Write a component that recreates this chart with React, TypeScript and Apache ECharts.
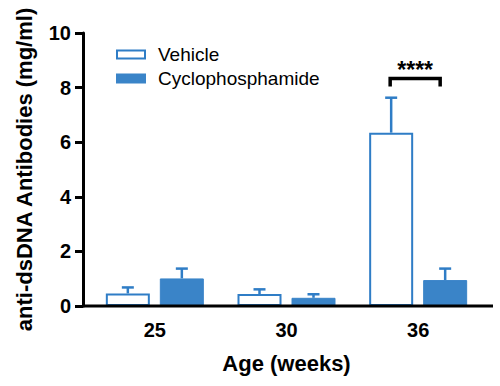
import React, { useEffect, useRef } from "react";
import * as echarts from "echarts";

const categories = ["25", "30", "36"];
const vehicleMean = [0.46, 0.44, 6.35];
const vehicleErr = [0.22, 0.17, 1.28];
const cpMean = [1.01, 0.3, 0.95];
const cpErr = [0.36, 0.13, 0.42];
const yTicks = [0, 2, 4, 6, 8, 10];
const sigCategory = 2;
const sigLevel = 8.33;
const sigLabel = "****";

const BLUE = "#2f7dc6";
const BLUE_FILL = "#3a84c8";
const FONT = 'Arial, "Liberation Sans", Helvetica, sans-serif';

export default function App() {
  const ref = useRef<HTMLDivElement>(null);
  useEffect(() => {
    if (!ref.current) return;
    const chart = echarts.init(ref.current, null, { renderer: "svg" });
    const barW = 44;
    const gap = 10;
    const off = (barW + gap) / 2;
    const errSeries = (name: string, mean: number[], err: number[], dir: number) => ({
      type: "custom",
      name: name + " err",
      data: mean.map((m, i) => [i, m, err[i]]),
      z: 1,
      silent: true,
      renderItem: (params: any, api: any) => {
        const idx = api.value(0);
        const v = api.value(1);
        const e = api.value(2);
        const base = api.coord([idx, v]);
        const top = api.coord([idx, v + e]);
        const x = base[0] + dir * off;
        return {
          type: "group",
          children: [
            { type: "line", shape: { x1: x, y1: base[1], x2: x, y2: top[1] }, style: { stroke: BLUE, lineWidth: 2.5 } },
            { type: "line", shape: { x1: x - 6, y1: top[1], x2: x + 6, y2: top[1] }, style: { stroke: BLUE, lineWidth: 2.5 } },
          ],
        };
      },
    });
    chart.setOption({
      animation: false,
      textStyle: { fontFamily: FONT },
      grid: { left: 89, right: 16, top: 33, bottom: 80 },
      legend: {
        orient: "vertical",
        left: 111,
        top: 40,
        itemWidth: 28,
        itemHeight: 8,
        itemGap: 5,
        icon: "rect",
        data: ["Vehicle", "Cyclophosphamide"],
        textStyle: { fontSize: 19, color: "#000", fontFamily: FONT, padding: [0, 0, 0, 8] },
      },
      xAxis: {
        type: "category",
        data: categories,
        name: "Age (weeks)",
        nameLocation: "middle",
        nameGap: 46,
        nameTextStyle: { fontSize: 22, fontWeight: "bold", color: "#000", fontFamily: FONT },
        axisLine: { show: false },
        axisTick: { alignWithLabel: true, length: 8, lineStyle: { color: "#000", width: 3 } },
        axisLabel: { fontSize: 20, fontWeight: "bold", color: "#000", margin: 14, fontFamily: FONT },
      },
      yAxis: {
        type: "value",
        min: yTicks[0],
        max: yTicks[yTicks.length - 1],
        interval: 2,
        offset: 6,
        name: "anti-dsDNA Antibodies (mg/ml)",
        nameLocation: "middle",
        nameGap: 48,
        nameTextStyle: { fontSize: 22, fontWeight: "bold", color: "#000", fontFamily: FONT },
        splitLine: { show: false },
        axisLine: { show: true, lineStyle: { color: "#000", width: 3 } },
        axisTick: { show: true, length: 8, lineStyle: { color: "#000", width: 3 } },
        axisLabel: { fontSize: 20, fontWeight: "bold", color: "#000", margin: 12, fontFamily: FONT },
      },
      graphic: [
        { type: "line", shape: { x1: 83, y1: 306, x2: 493, y2: 306 }, style: { stroke: "#000", lineWidth: 3 }, z: 10 },
      ],
      series: [
        {
          type: "bar",
          name: "Vehicle",
          data: vehicleMean,
          barWidth: barW,
          barGap: (gap / barW) * 100 + "%",
          itemStyle: { color: "#fff", borderColor: BLUE, borderWidth: 2 },
          z: 2,
        },
        {
          type: "bar",
          name: "Cyclophosphamide",
          data: cpMean,
          barWidth: barW,
          barGap: (gap / barW) * 100 + "%",
          itemStyle: { color: BLUE_FILL, borderColor: BLUE_FILL, borderWidth: 1 },
          z: 2,
        },
        errSeries("Vehicle", vehicleMean, vehicleErr, -1),
        errSeries("Cyclophosphamide", cpMean, cpErr, 1),
        {
          type: "custom",
          name: "sig",
          silent: true,
          data: [[sigCategory, sigLevel]],
          renderItem: (params: any, api: any) => {
            const p = api.coord([api.value(0), api.value(1)]);
            const l = p[0] - 28;
            const r = p[0] + 22;
            const y = p[1];
            return {
              type: "group",
              children: [
                {
                  type: "polyline",
                  shape: { points: [[l, y + 8], [l, y], [r, y], [r, y + 8]] },
                  style: { stroke: "#000", lineWidth: 3.5, fill: null, lineJoin: "miter" },
                },
                {
                  type: "text",
                  x: (l + r) / 2,
                  y: y + 3,
                  style: { text: sigLabel, fontSize: 23, fontWeight: "bold", fill: "#000", align: "center", verticalAlign: "bottom", fontFamily: FONT },
                },
              ],
            };
          },
        },
      ],
    });
    return () => chart.dispose();
  }, []);
  return <div ref={ref} style={{ width: 500, height: 386, position: "absolute", left: 0, top: 0 }} />;
}
